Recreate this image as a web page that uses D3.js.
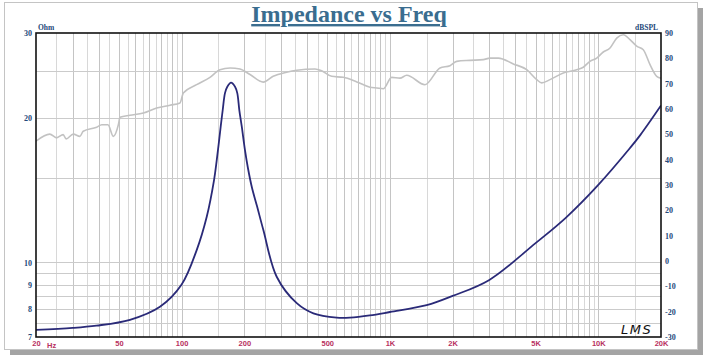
<!DOCTYPE html>
<html><head><meta charset="utf-8">
<script src="https://cdn.jsdelivr.net/npm/d3@7"></script>
<style>html,body{margin:0;padding:0;background:#fff;} svg{display:block}</style>
</head><body><svg id="c" width="706" height="361"></svg>
<script>
// ---- data ----
const zFreq = [20, 30, 39, 56.5, 78.7, 100, 118, 132, 143.1, 147.4, 154.1, 157.5, 161.5, 165.7, 172.6, 180.5, 185, 189.2, 194.3, 201.5, 208.2, 217.8, 230, 246.8, 286, 357, 429, 555, 643, 800, 1000, 1500, 2000, 3000, 5000, 7000, 10000, 14200, 15900, 20000];
const zOhm  = [7.24, 7.31, 7.39, 7.60, 8.09, 9.0, 10.6, 12.45, 14.84, 16.3, 19.2, 20.75, 22.5, 23.2, 23.65, 23.2, 22.5, 20.75, 19.2, 17.1, 15.7, 14.28, 13.1, 11.68, 9.34, 8.23, 7.84, 7.68, 7.68, 7.76, 7.89, 8.15, 8.52, 9.2, 10.97, 12.4, 14.5, 17.3, 18.4, 21.2];
const splFreq = [20, 23.3, 25.1, 27.0, 27.9, 30.2, 32.5, 33.7, 39.1, 41.4, 44.3, 47.0, 49.7, 50.6, 56.5, 65.5, 75.9, 88, 98.2, 101.9, 118, 136.8, 152.8, 170.8, 190.7, 213, 246.6, 275, 319, 357, 437, 470, 525, 597, 693, 802, 864, 929, 1019, 1117, 1203, 1473, 1739, 1942, 2092, 2422, 2806, 3022, 3312, 3910, 4534, 5064, 5352, 5864, 6792, 7878, 8472, 9126, 9828, 10568, 11382, 12260, 13184, 14198, 15290, 16444, 17714, 19074, 20000];
const splDb = [47.3, 50.1, 48.6, 49.9, 48.2, 50.1, 49.2, 51.2, 52.8, 53.8, 53.8, 49.2, 53.8, 56.7, 57.5, 58.4, 60.4, 61.5, 62.4, 66.3, 69.6, 72.5, 75.5, 76.2, 75.8, 73.6, 70.6, 72.9, 74.5, 75.3, 75.8, 75.1, 72.9, 72.5, 70.7, 68.6, 68.3, 68.0, 72.5, 72.2, 73.3, 69.6, 76.2, 77.1, 78.8, 79.2, 79.5, 80.1, 80.1, 77.8, 75.5, 71.6, 70.3, 71.6, 74.2, 75.5, 76.5, 78.8, 80.1, 82.5, 84.1, 88.0, 89.3, 87.4, 84.8, 83.4, 77.5, 72.9, 72.2];
const xTickValues = [20, 50, 100, 200, 500, 1000, 2000, 5000, 10000, 20000];
const xTickLabels = ["20", "50", "100", "200", "500", "1K", "2K", "5K", "10K", "20K"];
const ohmTicks = [7, 8, 9, 10, 20, 30];
const ohmGrid = [7.5, 8, 8.5, 9, 9.5, 10, 15, 20, 25];
const dbTicks = [-30, -20, -10, 0, 10, 20, 30, 40, 50, 60, 70, 80, 90];
const gridMult = [1, 1.5, 2, 2.5, 3, 3.5, 4, 4.5, 5, 5.5, 6, 6.5, 7, 7.5, 8, 8.5, 9, 9.5];

// ---- layout ----
const L = 36, R = 661, T = 33, B = 337;
const svg = d3.select("#c");
const x = d3.scaleLog().domain([20, 20000]).range([L, R]);
const yZ = d3.scaleLog().domain([7, 30]).range([B, T]);
const yDb = d3.scaleLinear().domain([-30, 90]).range([B, T]);

// outer frame & shadow
svg.append("rect").attr("x", 10).attr("y", 350).attr("width", 693).attr("height", 5).attr("fill", "#a4a4a4");
svg.append("rect").attr("x", 698).attr("y", 8).attr("width", 5).attr("height", 347).attr("fill", "#a4a4a4");
svg.append("rect").attr("x", 4.5).attr("y", 2.5).attr("width", 693).attr("height", 347)
  .attr("fill", "#fff").attr("stroke", "#c4c4c4").attr("stroke-width", 1);

// grid
const vg = [];
[10, 100, 1000, 10000].forEach(b => gridMult.forEach(m => { const f = b * m; if (f > 20 && f < 20000) vg.push(f); }));
svg.append("g").selectAll("line").data(vg).join("line")
  .attr("x1", d => Math.round(x(d)) + 0.5).attr("x2", d => Math.round(x(d)) + 0.5)
  .attr("y1", T).attr("y2", B)
  .attr("stroke", d => { const r = d / Math.pow(10, Math.floor(Math.log10(d) + 1e-9)); return Math.abs(r - Math.round(r)) < 1e-6 ? "#c4c4c4" : "#d8d8d8"; })
  .attr("stroke-width", 1);
svg.append("g").selectAll("line").data(ohmGrid).join("line")
  .attr("x1", L).attr("x2", R)
  .attr("y1", d => Math.round(yZ(d)) + 0.5).attr("y2", d => Math.round(yZ(d)) + 0.5)
  .attr("stroke", "#cbcbcb").attr("stroke-width", 1);

// clip
svg.append("clipPath").attr("id", "clip").append("rect").attr("x", L).attr("y", T).attr("width", R - L).attr("height", B - T);

// SPL curve
const splData = splFreq.map((f, i) => [f, splDb[i]]);
svg.append("path").datum(splData).attr("clip-path", "url(#clip)")
  .attr("fill", "none").attr("stroke", "#c2c2c2").attr("stroke-width", 1.6)
  .attr("d", d3.line().x(d => x(d[0])).y(d => yDb(d[1])).curve(d3.curveMonotoneX));

// impedance curve
const zData = zFreq.map((f, i) => [f, zOhm[i]]);
svg.append("path").datum(zData).attr("clip-path", "url(#clip)")
  .attr("fill", "none").attr("stroke", "#2a2a78").attr("stroke-width", 1.8).attr("stroke-linejoin", "round")
  .attr("d", d3.line().x(d => x(d[0])).y(d => yZ(d[1])).curve(d3.curveCatmullRom.alpha(0.5)));

// plot frame
svg.append("rect").attr("x", L).attr("y", T).attr("width", R - L).attr("height", B - T)
  .attr("fill", "none").attr("stroke", "#111").attr("stroke-width", 1.6);

// axes
const tickFont = "Liberation Serif, serif";
const blue = "#24497a";
const gl = svg.append("g").attr("transform", `translate(${L},0)`)
  .call(d3.axisLeft(yZ).tickValues(ohmTicks).tickSize(0).tickPadding(4).tickFormat(d => String(d)));
gl.select(".domain").remove();
gl.selectAll("text").attr("font-family", tickFont).attr("font-weight", "bold").attr("font-size", 8).attr("fill", blue);

const gr = svg.append("g").attr("transform", `translate(${R},0)`)
  .call(d3.axisRight(yDb).tickValues(dbTicks).tickSize(0).tickPadding(4).tickFormat(d => String(d)));
gr.select(".domain").remove();
gr.selectAll("text").attr("font-family", tickFont).attr("font-weight", "bold").attr("font-size", 8).attr("fill", blue);

const gb = svg.append("g").attr("transform", `translate(0,${B})`)
  .call(d3.axisBottom(x).tickValues(xTickValues).tickSize(0).tickPadding(4).tickFormat((d, i) => xTickLabels[i]));
gb.select(".domain").remove();
gb.selectAll("text").attr("font-family", "Liberation Sans, sans-serif").attr("font-weight", "bold").attr("font-size", 7.5).attr("fill", "#b8305e");

svg.append("text").attr("x", x(20) + 11).attr("y", B + 10.5).text("Hz")
  .attr("font-family", "Liberation Sans, sans-serif").attr("font-weight", "bold").attr("font-size", 7.5).attr("fill", "#b8305e");

// unit labels
svg.append("text").attr("x", 38).attr("y", 30).text("Ohm")
  .attr("font-family", tickFont).attr("font-weight", "bold").attr("font-size", 7.5).attr("fill", blue);
svg.append("text").attr("x", 658).attr("y", 30).attr("text-anchor", "end").text("dBSPL")
  .attr("font-family", tickFont).attr("font-weight", "bold").attr("font-size", 7.5).attr("fill", blue);

// title
svg.append("text").attr("x", 349).attr("y", 22).attr("text-anchor", "middle").text("Impedance vs Freq")
  .attr("font-family", "Liberation Serif, serif").attr("font-weight", "bold").attr("font-size", 24)
  .attr("fill", "#3a6d8f").attr("text-decoration", "underline");

// signature
svg.append("text").attr("x", 621).attr("y", 334).text("LMS")
  .attr("font-family", "DejaVu Sans, sans-serif").attr("font-style", "italic").attr("font-size", 13)
  .attr("fill", "#111").attr("letter-spacing", 1.5);
</script></body></html>
